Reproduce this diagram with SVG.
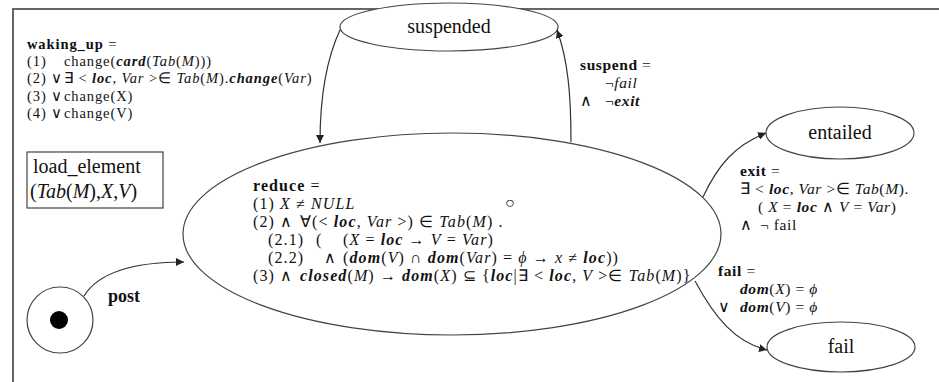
<svg xmlns="http://www.w3.org/2000/svg" width="939" height="382" viewBox="0 0 939 382" font-family="Liberation Serif, serif">
<defs>
<marker id="ah" viewBox="0 0 10 10" refX="10" refY="5" markerWidth="8" markerHeight="8" markerUnits="userSpaceOnUse" orient="auto">
<path d="M0,0 L10,5 L0,10 z" fill="#222"/>
</marker>
<style>
text{fill:#111}
.w{font-size:14.5px;letter-spacing:0.9px}
.r{font-size:16px;letter-spacing:1.1px}
.e{font-size:15.5px;letter-spacing:0.6px}
.n{font-size:20px}
.i{font-style:italic}
.b{font-weight:bold}
.edge{fill:none;stroke:#333;stroke-width:1.2}
.shape{fill:#fff;stroke:#444;stroke-width:1.2}
.frame{fill:none;stroke:#666;stroke-width:2}
</style>
</defs>
<rect width="939" height="382" fill="#fff"/>
<path class="frame" d="M13,382 V9 H939"/>

<g id="waking_up" font-family="Liberation Serif, serif">
<text class="w" x="27" y="49"><tspan class="b">waking_up</tspan> =</text>
<text class="w" x="27" y="66">(1)<tspan x="64">change(</tspan><tspan class="i b">card</tspan>(<tspan class="i">Tab</tspan>(<tspan class="i">M</tspan>)))</text>
<text class="w" x="27" y="83">(2) ∨<tspan x="64">∃ &lt; </tspan><tspan class="i b">loc</tspan>, <tspan class="i">Var</tspan> &gt;∈ <tspan class="i">Tab</tspan>(<tspan class="i">M</tspan>).<tspan class="i b">change</tspan>(<tspan class="i">Var</tspan>)</text>
<text class="w" x="27" y="101">(3) ∨<tspan x="64">change(X)</tspan></text>
<text class="w" x="27" y="118">(4) ∨<tspan x="64">change(V)</tspan></text>
</g>

<g id="load_element" font-family="Liberation Serif, serif">
<rect class="shape" x="27" y="152" width="136" height="56"/>
<text font-size="20" x="33" y="173">load_element</text>
<text font-size="20" x="30" y="198">(<tspan class="i">Tab</tspan>(<tspan class="i">M</tspan>),<tspan class="i">X</tspan>,<tspan class="i">V</tspan>)</text>
</g>

<g id="start">
<circle class="shape" cx="60" cy="320" r="33"/>
<circle cx="59" cy="320" r="9" fill="#000"/>
</g>

<g id="suspended" font-family="Liberation Serif, serif">
<ellipse class="shape" cx="449" cy="27" rx="109" ry="24"/>
<text class="n" x="449" y="33" text-anchor="middle">suspended</text>
</g>

<g id="reduce" font-family="Liberation Serif, serif">
<ellipse class="shape" cx="452" cy="234" rx="269" ry="101"/>
<text class="r" x="253" y="191"><tspan class="b">reduce</tspan> =</text>
<text class="r" x="253" y="209">(1) <tspan class="i">X</tspan> ≠ <tspan class="i">NULL</tspan></text>
<text class="r" x="505" y="208">○</text>
<text class="r" x="253" y="227">(2) ∧<tspan x="300">∀(&lt; </tspan><tspan class="i b">loc</tspan>, <tspan class="i">Var</tspan> &gt;) ∈ <tspan class="i">Tab</tspan>(<tspan class="i">M</tspan>) .</text>
<text class="r" x="268" y="245">(2.1)<tspan x="316">(</tspan><tspan x="343">(</tspan><tspan class="i">X</tspan> = <tspan class="i b">loc</tspan> → <tspan class="i">V</tspan> = <tspan class="i">Var</tspan>)</text>
<text class="r" x="268" y="263">(2.2)<tspan x="324">∧</tspan><tspan x="343">(</tspan><tspan class="i b">dom</tspan>(<tspan class="i">V</tspan>) ∩ <tspan class="i b">dom</tspan>(<tspan class="i">Var</tspan>) = <tspan class="i">ϕ</tspan> → <tspan class="i">x</tspan> ≠ <tspan class="i b">loc</tspan>))</text>
<text class="r" x="253" y="281">(3) ∧<tspan x="300" class="i b">closed</tspan>(<tspan class="i">M</tspan>) → <tspan class="i b">dom</tspan>(<tspan class="i">X</tspan>) ⊆ {<tspan class="i b">loc</tspan>|∃ &lt; <tspan class="i b">loc</tspan>, <tspan class="i">V</tspan> &gt;∈ <tspan class="i">Tab</tspan>(<tspan class="i">M</tspan>)}</text>
</g>

<g id="entailed" font-family="Liberation Serif, serif">
<ellipse class="shape" cx="840" cy="133" rx="74" ry="26"/>
<text class="n" x="840" y="139" text-anchor="middle">entailed</text>
</g>

<g id="fail" font-family="Liberation Serif, serif">
<ellipse class="shape" cx="841" cy="347" rx="74" ry="25"/>
<text class="n" x="841" y="353" text-anchor="middle">fail</text>
</g>

<g id="connectors">
<path class="edge" d="M340,30 C326,60 320,100 320,143" marker-end="url(#ah)"/>
<path class="edge" d="M571,142 C571,95 568,60 557,30" marker-end="url(#ah)"/>
<path class="edge" d="M703,197 C718,165 735,145 766,133" marker-end="url(#ah)"/>
<path class="edge" d="M695,281 C715,318 735,342 767,350" marker-end="url(#ah)"/>
<path class="edge" d="M84,296 C100,270 140,262 184,262" marker-end="url(#ah)"/>
</g>

<g id="labels" font-family="Liberation Serif, serif">
<text class="b" font-size="18" x="108" y="302">post</text>
<text class="e" x="580" y="70"><tspan class="b">suspend</tspan> =</text>
<text class="e" x="605" y="88">¬<tspan class="i">fail</tspan></text>
<text class="e" x="580" y="106">∧<tspan x="605">¬</tspan><tspan class="i b">exit</tspan></text>
<text class="e" x="740" y="176"><tspan class="b">exit</tspan> =</text>
<text class="e" x="740" y="194">∃ &lt; <tspan class="i b">loc</tspan>, <tspan class="i">Var</tspan> &gt;∈ <tspan class="i">Tab</tspan>(<tspan class="i">M</tspan>).</text>
<text class="e" x="758" y="212">( <tspan class="i">X</tspan> = <tspan class="i b">loc</tspan> ∧ <tspan class="i">V</tspan> = <tspan class="i">Var</tspan>)</text>
<text class="e" x="740" y="230">∧<tspan x="760">¬ fail</tspan></text>
<text class="e" x="718" y="276"><tspan class="b">fail</tspan> =</text>
<text class="e" x="740" y="294"><tspan class="i b">dom</tspan>(<tspan class="i">X</tspan>) = <tspan class="i">ϕ</tspan></text>
<text class="e" x="718" y="312">∨<tspan x="740" class="i b">dom</tspan>(<tspan class="i">V</tspan>) = <tspan class="i">ϕ</tspan></text>
</g>
</svg>
